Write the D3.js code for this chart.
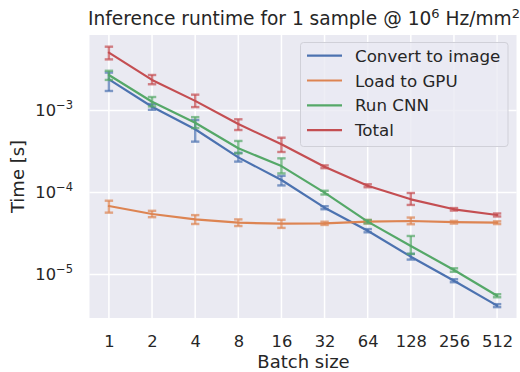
<!DOCTYPE html>
<html>
<head>
<meta charset="utf-8">
<script src="https://cdn.jsdelivr.net/npm/d3@7"></script>
<style>
  html, body { margin: 0; padding: 0; background: #ffffff; }
  svg { display: block; }
  text { font-family: "DejaVu Sans", sans-serif; fill: #262626; }
</style>
</head>
<body>
<svg id="chart" width="520" height="372"></svg>
<script>
// Batch sizes on the x axis (categorical, evenly spaced)
const batchSizes = ["1", "2", "4", "8", "16", "32", "64", "128", "256", "512"];

// Mean runtime per sample [s] for each stage
const convertMean = [2.40e-3, 1.11e-3, 5.90e-4, 2.68e-4, 1.42e-4, 6.53e-5, 3.42e-5, 1.65e-5, 8.39e-6, 4.17e-6];
const loadMean    = [6.84e-5, 5.47e-5, 4.71e-5, 4.28e-5, 4.17e-5, 4.21e-5, 4.41e-5, 4.49e-5, 4.34e-5, 4.28e-5];
const cnnMean     = [2.71e-3, 1.28e-3, 7.10e-4, 3.46e-4, 2.10e-4, 9.96e-5, 4.41e-5, 2.23e-5, 1.135e-5, 5.51e-6];
const totalMean   = [5.07e-3, 2.36e-3, 1.31e-3, 6.84e-4, 3.87e-4, 2.06e-4, 1.21e-4, 8.26e-5, 6.24e-5, 5.32e-5];

// Error bar extents (low / high) for each stage
const convertLow  = [1.73e-3, 1.02e-3, 4.17e-4, 2.38e-4, 1.22e-4, 6.25e-5, 3.27e-5, 1.52e-5, 8.05e-6, 4.00e-6];
const convertHigh = [2.90e-3, 1.20e-3, 7.65e-4, 3.05e-4, 1.60e-4, 6.80e-5, 3.58e-5, 1.79e-5, 8.75e-6, 4.35e-6];
const loadLow     = [5.68e-5, 5.00e-5, 4.13e-5, 3.90e-5, 3.70e-5, 4.02e-5, 4.20e-5, 4.10e-5, 4.18e-5, 4.12e-5];
const loadHigh    = [7.94e-5, 5.98e-5, 5.30e-5, 4.70e-5, 4.65e-5, 4.40e-5, 4.62e-5, 4.95e-5, 4.50e-5, 4.45e-5];
const cnnLow      = [2.36e-3, 1.12e-3, 6.10e-4, 3.00e-4, 1.71e-4, 9.45e-5, 4.20e-5, 1.78e-5, 1.08e-5, 5.28e-6];
const cnnHigh     = [3.05e-3, 1.46e-3, 8.30e-4, 4.25e-4, 2.61e-4, 1.05e-4, 4.62e-5, 2.95e-5, 1.19e-5, 5.75e-6];
const totalLow    = [4.20e-3, 2.09e-3, 1.10e-3, 5.78e-4, 3.12e-4, 1.98e-4, 1.16e-4, 7.05e-5, 6.02e-5, 5.10e-5];
const totalHigh   = [6.00e-3, 2.71e-3, 1.56e-3, 7.81e-4, 4.66e-4, 2.14e-4, 1.26e-4, 9.86e-5, 6.46e-5, 5.55e-5];

const seriesNames  = ["Convert to image", "Load to GPU", "Run CNN", "Total"];
const seriesColors = ["#4c72b0", "#dd8452", "#55a868", "#c44e52"];
const yTickExps    = [-3, -4, -5];

const series = [
  { name: seriesNames[0], color: seriesColors[0], mean: convertMean, low: convertLow, high: convertHigh },
  { name: seriesNames[1], color: seriesColors[1], mean: loadMean,    low: loadLow,    high: loadHigh },
  { name: seriesNames[2], color: seriesColors[2], mean: cnnMean,     low: cnnLow,     high: cnnHigh },
  { name: seriesNames[3], color: seriesColors[3], mean: totalMean,   low: totalLow,   high: totalHigh }
];

const plot = { left: 89.5, right: 516.5, top: 35, bottom: 318 };

const svg = d3.select("#chart");

const x = d3.scaleLinear()
  .domain([-0.45, batchSizes.length - 1 + 0.45])
  .range([plot.left, plot.right]);

const y = d3.scaleLog()
  .domain([Math.pow(10, -5.5305), Math.pow(10, -2.0793)])
  .range([plot.bottom, plot.top]);

// Axes background
svg.append("rect")
  .attr("x", plot.left).attr("y", plot.top)
  .attr("width", plot.right - plot.left).attr("height", plot.bottom - plot.top)
  .attr("fill", "#eaeaf2");

// Grid lines
const grid = svg.append("g").attr("stroke", "#ffffff").attr("stroke-width", 1.5);
batchSizes.forEach((b, i) => {
  grid.append("line")
    .attr("x1", x(i)).attr("x2", x(i))
    .attr("y1", plot.top).attr("y2", plot.bottom);
});
yTickExps.forEach(e => {
  grid.append("line")
    .attr("x1", plot.left).attr("x2", plot.right)
    .attr("y1", y(Math.pow(10, e))).attr("y2", y(Math.pow(10, e)));
});

// X axis tick labels via d3 axis
const xAxis = d3.axisBottom(x)
  .tickValues(d3.range(batchSizes.length))
  .tickFormat(i => batchSizes[i])
  .tickSize(0)
  .tickPadding(17);
const gx = svg.append("g")
  .attr("transform", `translate(0,${plot.bottom})`)
  .call(xAxis);
gx.select(".domain").remove();
gx.selectAll("text")
  .style("font-family", "DejaVu Sans, sans-serif")
  .style("font-size", "16.3px")
  .attr("fill", "#262626");

// Y axis tick labels with superscript exponents
const gy = svg.append("g");
yTickExps.forEach(e => {
  const t = gy.append("text")
    .attr("x", 73)
    .attr("y", y(Math.pow(10, e)) + 6)
    .attr("text-anchor", "end")
    .style("font-size", "16.3px");
  t.append("tspan").text("10");
  t.append("tspan")
    .attr("dy", -7)
    .style("font-size", "11.5px")
    .text("\u2212" + Math.abs(e));
});

// Lines
const line = d3.line()
  .x((d, i) => x(i))
  .y(d => y(d));

series.forEach(s => {
  const g = svg.append("g");
  // error bars
  s.mean.forEach((m, i) => {
    const eb = g.append("g")
      .attr("stroke", s.color)
      .attr("stroke-width", 2.4)
      .attr("stroke-opacity", 0.7);
    eb.append("line")
      .attr("x1", x(i)).attr("x2", x(i))
      .attr("y1", y(s.low[i])).attr("y2", y(s.high[i]));
    eb.append("line")
      .attr("x1", x(i) - 4.2).attr("x2", x(i) + 4.2)
      .attr("y1", y(s.low[i])).attr("y2", y(s.low[i]));
    eb.append("line")
      .attr("x1", x(i) - 4.2).attr("x2", x(i) + 4.2)
      .attr("y1", y(s.high[i])).attr("y2", y(s.high[i]));
  });
  g.append("path")
    .datum(s.mean)
    .attr("d", line)
    .attr("fill", "none")
    .attr("stroke", s.color)
    .attr("stroke-width", 2.2)
    .attr("stroke-linejoin", "round")
    .attr("stroke-linecap", "round");
});

// Legend
const legend = svg.append("g");
legend.append("rect")
  .attr("x", 300.5).attr("y", 42.5)
  .attr("width", 207.5).attr("height", 104)
  .attr("rx", 3).attr("ry", 3)
  .attr("fill", "#eaeaf2").attr("fill-opacity", 0.8)
  .attr("stroke", "#d0d0d8").attr("stroke-width", 1);
series.forEach((s, i) => {
  const cy = 55.7 + i * 24.8;
  legend.append("line")
    .attr("x1", 307).attr("x2", 342)
    .attr("y1", cy).attr("y2", cy)
    .attr("stroke", s.color).attr("stroke-width", 2.2);
  legend.append("text")
    .attr("x", 355).attr("y", cy + 6)
    .style("font-size", "16.7px")
    .text(s.name);
});

// Axis labels
svg.append("text")
  .attr("x", (plot.left + plot.right) / 2 + 0.5)
  .attr("y", 368)
  .attr("text-anchor", "middle")
  .style("font-size", "18px")
  .text("Batch size");

svg.append("text")
  .attr("transform", `translate(24,${(plot.top + plot.bottom) / 2}) rotate(-90)`)
  .attr("text-anchor", "middle")
  .style("font-size", "18px")
  .text("Time [s]");

// Title
const title = svg.append("text")
  .attr("x", (plot.left + plot.right) / 2 + 1)
  .attr("y", 25)
  .attr("text-anchor", "middle")
  .style("font-size", "18.6px");
title.append("tspan").text("Inference runtime for 1 sample @ 10");
title.append("tspan").attr("dy", -7.5).style("font-size", "13px").text("6");
title.append("tspan").attr("dy", 7.5).text(" Hz/mm");
title.append("tspan").attr("dy", -7.5).style("font-size", "13px").text("2");
</script>
</body>
</html>
